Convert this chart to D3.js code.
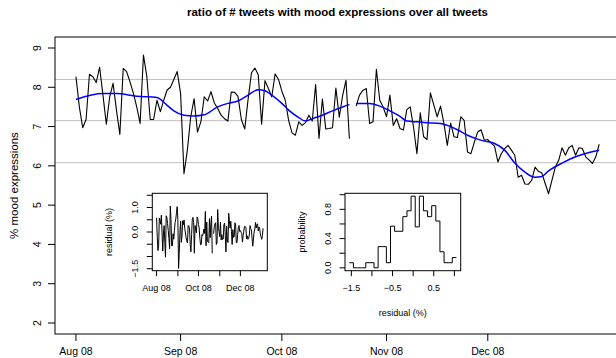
<!DOCTYPE html>
<html>
<head>
<meta charset="utf-8">
<script src="https://cdn.jsdelivr.net/npm/d3@7"></script>
<style>
  body { margin: 0; background: #fff; }
  text { font-family: "Liberation Sans", Arial, Helvetica, sans-serif; fill: #000; }
</style>
</head>
<body>
<div id="chart"></div>
<script>
// Data
// daily ratio (%) from 2008-08-01, null = missing day
var startDate = new Date(2008, 7, 1);
var moodValues = [
  8.27, 7.50, 6.97, 7.18, 8.33, 8.27, 8.12, 8.51, 7.80, 7.06,
  7.76, 8.10, 7.42, 6.80, 8.48, 8.40, 8.14, 7.85, 7.50, 7.08,
  8.82, 8.27, 7.18, 7.18, 7.67, 7.38, 7.67, 7.93, 8.00, 8.20,
  8.40, 7.84, 5.80, 6.40, 7.25, 7.71, 6.86, 7.12, 7.76, 7.65,
  7.89, 7.60, 7.46, 7.29, 7.20, 7.14, 7.88, 7.87, 7.77, 7.18,
  6.94, 7.70, 8.37, 8.49, 8.32, 7.06, 8.17, 7.97, 7.76, 8.34,
  8.20, 7.90, 7.67, 7.16, 6.84, 6.78, 7.12, 7.03, 7.10, 7.29,
  7.14, 8.07, 6.70, 7.70, 6.94, 6.95, 6.97, 7.98, 7.24, 7.79,
  8.18, 6.69, null, 7.52, 7.80, 7.92, 7.97, 7.08, 7.12, 8.46,
  7.67, 7.50, 7.25, 7.80, 7.03, 7.20, 6.95, 6.91, 7.43, 7.50,
  6.99, 6.31, 7.35, 6.74, 6.67, 7.86, 7.55, 7.25, 7.52, 7.08,
  6.52, 7.09, 6.74, 6.72, 7.25, 7.16, 6.35, 6.31, 6.60, 6.86,
  6.92, 6.65, 6.67, 6.58, 6.50, 6.10, 6.31, 6.44, 6.52, 6.40,
  6.27, 5.71, 5.76, 5.54, 5.53, 5.63, 5.97, 5.86, 5.82, 5.55,
  5.29, 5.63, 5.97, 6.14, 6.46, 6.27, 6.46, 6.52, 6.27, 6.46,
  6.44, 6.23, 6.15, 6.06, 6.23, 6.55
];

// blue smoothed trend, sampled along the curve (day index from start)
var smoothDays = [0, 8, 12, 18, 24, 27, 29, 32, 35, 38, 42, 45, 48, 51, 54, 56, 58, 61, 63, 66,
  68, 70, 73, 76, 79, 81, 82, 83, 87, 90, 93, 96, 98, 101, 104, 108, 110, 113, 116, 119,
  121, 124, 127, 130, 133, 136, 138, 140, 144, 148, 152, 155];
var smoothValues = [7.69, 7.84, 7.84, 7.77, 7.74, 7.54, 7.40, 7.29, 7.27, 7.30, 7.50, 7.59, 7.65, 7.80, 7.94, 7.91, 7.80, 7.59, 7.42, 7.23,
  7.14, 7.20, 7.29, 7.40, 7.50, 7.56, null, 7.59, 7.59, 7.52, 7.40, 7.26, 7.14, 7.12, 7.10, 7.08, 7.03, 6.92, 6.78, 6.68,
  6.63, 6.57, 6.40, 6.07, 5.84, 5.71, 5.73, 5.87, 6.07, 6.23, 6.34, 6.40];

var refLines = [6.08, 7.15, 8.2];
var yTicks = [2, 3, 4, 5, 6, 7, 8, 9];
var monthTicks = ["2008-08-01", "2008-09-01", "2008-10-01", "2008-11-01", "2008-12-01"];
var insetMonthLabels = ["Aug 08", "", "Oct 08", "", "Dec 08"];

var residTicks = [-1.5, -1, -0.5, 0, 0.5, 1, 1.5];
var residTickLabels = ["\u22121.5", "", "", "0.0", "", "1.0", ""];

// histogram of residuals (bin centres, width 0.1)
var histCenters = [-1.5, -1.4, -1.3, -1.2, -1.1, -1.0, -0.9, -0.8, -0.7, -0.6, -0.5, -0.4, -0.3,
  -0.2, -0.1, 0.0, 0.1, 0.2, 0.3, 0.4, 0.5, 0.6, 0.7, 0.8, 0.9, 1.0];
var histDensity = [0.07, 0, 0, 0, 0.07, 0.07, 0, 0.29, 0.29, 0.07, 0.57, 0.50, 0.50,
  0.70, 0.78, 0.98, 0.56, 0.98, 0.78, 0.70, 0.85, 0.64, 0.22, 0.07, 0.07, 0.14];
var histBinWidth = 0.1;
var histXTicks = [-1.5, -1, -0.5, 0, 0.5, 1];
var histXLabels = ["\u22121.5", "", "\u22120.5", "", "0.5", ""];
var histYTicks = [0, 0.2, 0.4, 0.6, 0.8, 1.0];
var histYLabels = ["0.0", "", "0.4", "", "0.8", ""];

// Set SVG specs
var svgWidth = 616;
var svgHeight = 358;
var box = { left: 55, top: 37, right: 620, bottom: 334 };

var svg = d3.select("#chart")
  .append("svg")
  .attr("width", svgWidth)
  .attr("height", svgHeight);

var parseDay = d3.timeParse("%Y-%m-%d");
var fmtMonth = d3.timeFormat("%b %y");

var series = moodValues.map(function(v, i) {
  return { date: d3.timeDay.offset(startDate, i), v: v };
});
var smoothSeries = smoothDays.map(function(d, i) {
  return { date: d3.timeDay.offset(startDate, d), v: smoothValues[i] };
});

// residual = value minus trend (trend read between samples)
var trendAt = d3.scaleLinear()
  .domain(smoothDays.filter(function(d, i) { return smoothValues[i] != null; }))
  .range(smoothValues.filter(function(v) { return v != null; }));
var residuals = series.map(function(d, i) {
  return { date: d.date, v: d.v == null ? null : d.v - trendAt(i) };
});

// R-style 4% padding on the data range
function padded(lo, hi) {
  var p = (hi - lo) * 0.04;
  return [lo - p, hi + p];
}
var dayCount = moodValues.length - 1;
var dayPad = dayCount * 0.04;
var xDomain = [d3.timeHour.offset(startDate, -dayPad * 24),
  d3.timeHour.offset(startDate, (dayCount + dayPad) * 24)];

// ---------------- main panel ----------------
var xScale = d3.scaleTime().domain(xDomain).range([box.left, box.right]);
var yScale = d3.scaleLinear().domain(padded(2, 9)).range([box.bottom, box.top]);

svg.append("text")
  .attr("x", (box.left + box.right) / 2)
  .attr("y", 16)
  .attr("text-anchor", "middle")
  .attr("font-size", "11.5px")
  .attr("font-weight", "bold")
  .text("ratio of # tweets with mood expressions over all tweets");

svg.selectAll(".ref")
  .data(refLines)
  .enter()
  .append("line")
  .attr("x1", box.left)
  .attr("x2", box.right)
  .attr("y1", d => yScale(d))
  .attr("y2", d => yScale(d))
  .attr("stroke", "#bebebe")
  .attr("stroke-width", 1);

var moodLine = d3.line()
  .defined(d => d.v != null)
  .x(d => xScale(d.date))
  .y(d => yScale(d.v));

svg.append("path")
  .datum(series)
  .attr("d", moodLine)
  .attr("fill", "none")
  .attr("stroke", "#000")
  .attr("stroke-width", 1.1)
  .attr("stroke-linejoin", "round");

var trendLine = d3.line()
  .defined(d => d.v != null)
  .x(d => xScale(d.date))
  .y(d => yScale(d.v))
  .curve(d3.curveMonotoneX);

svg.append("path")
  .datum(smoothSeries)
  .attr("d", trendLine)
  .attr("fill", "none")
  .attr("stroke", "#0000ff")
  .attr("stroke-width", 1.5);

svg.append("rect")
  .attr("x", box.left)
  .attr("y", box.top)
  .attr("width", box.right - box.left)
  .attr("height", box.bottom - box.top)
  .attr("fill", "none")
  .attr("stroke", "#000")
  .attr("stroke-width", 1);

// y axis
var yAxisG = svg.append("g");
yAxisG.selectAll("line")
  .data(yTicks)
  .enter()
  .append("line")
  .attr("x1", box.left - 7)
  .attr("x2", box.left)
  .attr("y1", d => yScale(d))
  .attr("y2", d => yScale(d))
  .attr("stroke", "#000");
yAxisG.selectAll("text")
  .data(yTicks)
  .enter()
  .append("text")
  .attr("transform", d => `translate(37, ${yScale(d)}) rotate(-90)`)
  .attr("dy", "0.35em")
  .attr("text-anchor", "middle")
  .attr("font-size", "10.5px")
  .text(d => d);

svg.append("text")
  .attr("transform", `translate(14, ${(box.top + box.bottom) / 2}) rotate(-90)`)
  .attr("dy", "0.35em")
  .attr("text-anchor", "middle")
  .attr("font-size", "11.5px")
  .text("% mood expressions");

// x axis
var xAxisG = svg.append("g");
xAxisG.selectAll("line")
  .data(monthTicks)
  .enter()
  .append("line")
  .attr("x1", d => xScale(parseDay(d)))
  .attr("x2", d => xScale(parseDay(d)))
  .attr("y1", box.bottom)
  .attr("y2", box.bottom + 7)
  .attr("stroke", "#000");
xAxisG.selectAll("text")
  .data(monthTicks)
  .enter()
  .append("text")
  .attr("x", d => xScale(parseDay(d)))
  .attr("y", 355)
  .attr("text-anchor", "middle")
  .attr("font-size", "10.5px")
  .text(d => fmtMonth(parseDay(d)));

// ---------------- inset helpers ----------------
function drawFrame(g, b) {
  g.append("rect")
    .attr("x", b.left)
    .attr("y", b.top)
    .attr("width", b.right - b.left)
    .attr("height", b.bottom - b.top)
    .attr("fill", "#fff")
    .attr("stroke", "#000")
    .attr("stroke-width", 1);
}
function drawLeftTicks(g, b, scale, ticks, labels) {
  g.selectAll(".lt")
    .data(ticks)
    .enter()
    .append("line")
    .attr("x1", b.left - 5.5)
    .attr("x2", b.left)
    .attr("y1", d => scale(d))
    .attr("y2", d => scale(d))
    .attr("stroke", "#000");
  g.selectAll(".ll")
    .data(ticks)
    .enter()
    .append("text")
    .attr("transform", d => `translate(${b.left - 17}, ${scale(d)}) rotate(-90)`)
    .attr("dy", "0.35em")
    .attr("text-anchor", "middle")
    .attr("font-size", "9px")
    .text((d, i) => labels[i]);
}
function drawBottomTicks(g, b, scale, ticks, labels) {
  g.selectAll(".bt")
    .data(ticks)
    .enter()
    .append("line")
    .attr("x1", d => scale(d))
    .attr("x2", d => scale(d))
    .attr("y1", b.bottom)
    .attr("y2", b.bottom + 5.5)
    .attr("stroke", "#000");
  g.selectAll(".bl")
    .data(ticks)
    .enter()
    .append("text")
    .attr("x", d => scale(d))
    .attr("y", b.bottom + 20.5)
    .attr("text-anchor", "middle")
    .attr("font-size", "9px")
    .text((d, i) => labels[i]);
}

// ---------------- inset 1: residual over time ----------------
var box1 = { left: 152.3, top: 193.3, right: 267.3, bottom: 270.7 };
var g1 = svg.append("g");
drawFrame(g1, box1);
var x1 = d3.scaleTime().domain(xDomain).range([box1.left, box1.right]);
var y1 = d3.scaleLinear().domain([-1.58, 1.58]).range([box1.bottom, box1.top]);

g1.append("path")
  .datum(residuals)
  .attr("d", d3.line()
    .defined(d => d.v != null)
    .x(d => x1(d.date))
    .y(d => y1(d.v)))
  .attr("fill", "none")
  .attr("stroke", "#000")
  .attr("stroke-width", 1);

drawLeftTicks(g1, box1, y1, residTicks, residTickLabels);
drawBottomTicks(g1, box1, d => x1(parseDay(d)), monthTicks, insetMonthLabels);

g1.append("text")
  .attr("transform", `translate(109, ${(box1.top + box1.bottom) / 2}) rotate(-90)`)
  .attr("dy", "0.35em")
  .attr("text-anchor", "middle")
  .attr("font-size", "9px")
  .text("residual (%)");

// ---------------- inset 2: residual histogram ----------------
var box2 = { left: 345, top: 193.3, right: 460.7, bottom: 270.7 };
var g2 = svg.append("g");
drawFrame(g2, box2);
var x2 = d3.scaleLinear()
  .domain(padded(histCenters[0] - histBinWidth / 2, histCenters[histCenters.length - 1] + histBinWidth / 2))
  .range([box2.left, box2.right]);
var y2 = d3.scaleLinear().domain(padded(0, 0.98)).range([box2.bottom, box2.top]);

var steps = histCenters.map(function(c, i) {
  return { x: c - histBinWidth / 2, y: histDensity[i] };
});
steps.push({ x: histCenters[histCenters.length - 1] + histBinWidth / 2, y: histDensity[histDensity.length - 1] });

g2.append("path")
  .datum(steps)
  .attr("d", d3.line()
    .x(d => x2(d.x))
    .y(d => y2(d.y))
    .curve(d3.curveStepAfter))
  .attr("fill", "none")
  .attr("stroke", "#000")
  .attr("stroke-width", 1);

drawLeftTicks(g2, box2, y2, histYTicks, histYLabels);
drawBottomTicks(g2, box2, x2, histXTicks, histXLabels);

g2.append("text")
  .attr("transform", `translate(302, ${(box2.top + box2.bottom) / 2}) rotate(-90)`)
  .attr("dy", "0.35em")
  .attr("text-anchor", "middle")
  .attr("font-size", "9px")
  .text("probability");

g2.append("text")
  .attr("x", (box2.left + box2.right) / 2)
  .attr("y", 316)
  .attr("text-anchor", "middle")
  .attr("font-size", "9px")
  .text("residual (%)");
</script>
</body>
</html>
